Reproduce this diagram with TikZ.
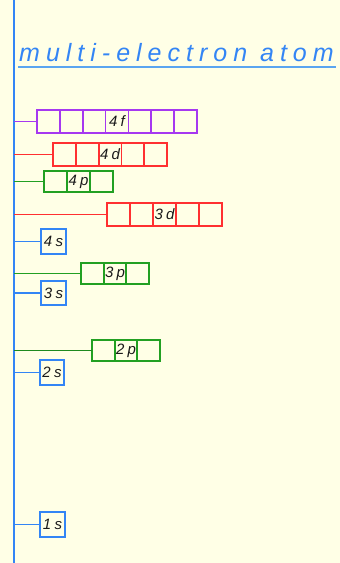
\documentclass[tikz,border=0pt]{standalone}
\usepackage{fontspec}
\setmainfont{Liberation Sans}
\newfontfamily\titlefont[LetterSpace=24]{Liberation Sans}
\newfontfamily\labfont[LetterSpace=22]{Liberation Sans}
\definecolor{bg}{HTML}{FFFFE6}
\definecolor{ablue}{HTML}{3385F5}
\definecolor{ulblue}{HTML}{5AA5F0}
\definecolor{ored}{HTML}{FF3030}
\definecolor{ogreen}{HTML}{22A022}
\definecolor{dgreen}{HTML}{1E8A1E}
\definecolor{opurple}{HTML}{A638F0}
\definecolor{ink}{HTML}{1A1A1A}
\newcommand\orbrow[9]{% #1 name, #2 color, #3 x1, #4 x2, #5 yc, #6 h, #7 n, #8 label, #9 stub color
  \pgfmathsetmacro\orbcw{(#4-#3)/#7}
  \coordinate (ax#1) at (14,#5);
  \foreach \i in {1,...,#7} {
    \node[cell, draw=#2, minimum width=\orbcw pt, minimum height=#6pt, anchor=west] (#1c\i) at ({#3+(\i-1)*\orbcw},#5) {};
  }
  \pgfmathtruncatemacro\orbmid{(#7+1)/2}
  \node[lbl] (#1lab) at (#1c\orbmid) {#8};
  \draw[stub, draw=#9] (ax#1) -- (#1c1.west);
}
\begin{document}
\begin{tikzpicture}[x=1pt,y=-1pt,
  cell/.style={rectangle, inner sep=0pt, outer sep=0pt, line width=1.8pt},
  lbl/.style={font=\labfont\itshape\fontsize{15}{15}\selectfont, text=ink, inner sep=0pt},
  stub/.style={line width=1.7pt},
  axis/.style={draw=ablue, line width=2pt}]
\useasboundingbox[fill=bg] (0,0) rectangle (340,563);
\coordinate (axtop) at (14,0);
\coordinate (axbot) at (14,563);
\draw[axis] (axtop) -- (axbot);
\node[anchor=base west, inner sep=0pt, text=ablue, font=\titlefont\itshape\fontsize{25}{25}\selectfont] (title) at (19,61) {multi-electron atom};
\coordinate (ul1) at (18,67);
\coordinate (ul2) at (336,67);
\draw[draw=ulblue, line width=2.4pt] (ul1) -- (ul2);
\orbrow{f4}{opurple}{37}{197}{121.5}{23}{7}{4f}{opurple}
\orbrow{d4}{ored}{53}{167}{154.5}{23}{5}{4d}{ored}
\orbrow{p4}{ogreen}{44}{113}{181.5}{21}{3}{4p}{ogreen}
\orbrow{d3}{ored}{107}{222}{214.5}{23}{5}{3d}{ored}
\orbrow{s4}{ablue}{41}{66}{241.5}{25}{1}{4s}{ablue}
\orbrow{p3}{ogreen}{81}{149}{273.5}{21}{3}{3p}{ogreen}
\orbrow{s3}{ablue}{41}{66}{293}{24}{1}{3s}{ablue}
\orbrow{p2}{ogreen}{92}{160}{350.5}{21}{3}{2p}{dgreen}
\orbrow{s2}{ablue}{40}{64}{372.5}{25}{1}{2s}{ablue}
\orbrow{s1}{ablue}{40}{65}{524.5}{25}{1}{1s}{ablue}
\end{tikzpicture}
\end{document}
